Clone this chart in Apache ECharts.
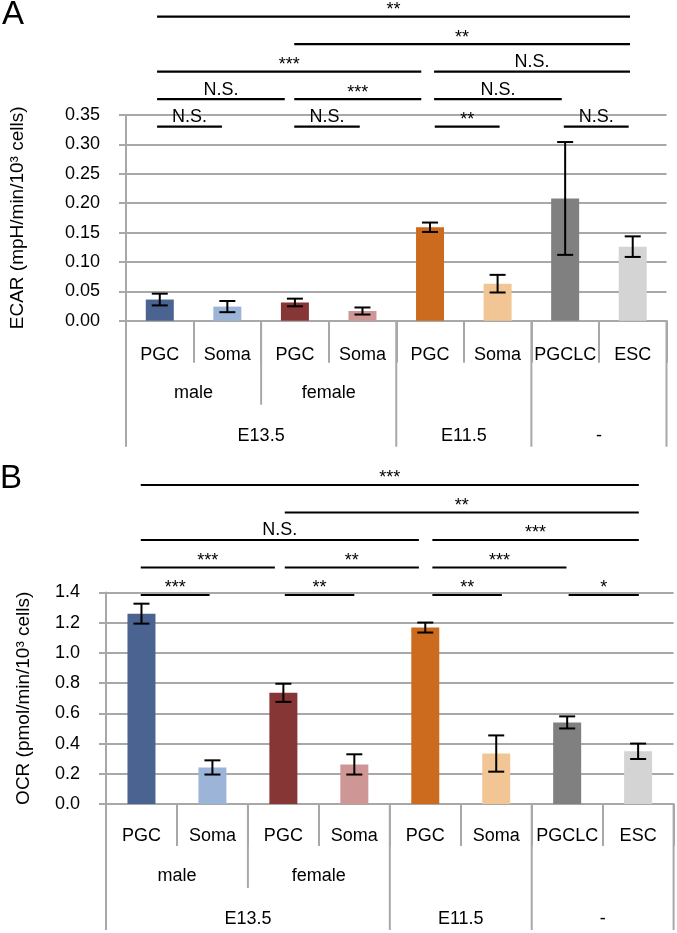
<!DOCTYPE html>
<html>
<head>
<meta charset="utf-8">
<script src="https://cdn.jsdelivr.net/npm/echarts@6/dist/echarts.min.js"></script>
<style>
html,body{margin:0;padding:0;background:#fff;}
#c{width:677px;height:933px;}
</style>
</head>
<body>
<div id="c"></div>
<script>
// ---- data ----
const categories = ['PGC','Soma','PGC','Soma','PGC','Soma','PGCLC','ESC'];
const barColors = ['#4a6391','#9cb4d8','#873636','#cf9696','#cc6b1e','#f2c595','#808080','#d4d4d4'];
const ecarMean = [0.036,0.024,0.031,0.0165,0.159,0.063,0.208,0.126];
const ecarErr  = [0.010,0.0095,0.0065,0.006,0.008,0.015,0.096,0.0175];
const ocrMean  = [1.26,0.242,0.736,0.262,1.168,0.334,0.540,0.349];
const ocrErr   = [0.066,0.047,0.060,0.067,0.033,0.120,0.040,0.051];
const sexLabels = ['male','female'];
const sexSpans = [[0,1],[2,3]];
const stageLabels = ['E13.5','E11.5','-'];
const stageSpans = [[0,3],[4,5],[6,7]];
const midBoundaries = [2];
const longBoundaries = [0,4,6,8];
// significance brackets: [fromCategory, toCategory, row (0 = top), label]
const bracketsA = [
  [-0.04,6.96,0,'**'],
  [1.99,6.96,1,'**'],
  [-0.04,3.87,2,'***'],[4.06,6.96,2,'N.S.'],
  [-0.04,1.85,3,'N.S.'],[1.99,3.87,3,'***'],[4.06,5.95,3,'N.S.'],
  [-0.04,0.92,4,'N.S.'],[1.99,2.96,4,'N.S.'],[4.07,5.03,4,'**'],[5.98,6.94,4,'N.S.']
];
const bracketsB = [
  [-0.01,7.01,0,'***'],
  [2.02,7.01,1,'**'],
  [-0.01,3.91,2,'N.S.'],[4.10,7.01,2,'***'],
  [-0.01,1.88,3,'***'],[2.02,3.91,3,'**'],[4.10,5.99,3,'***'],
  [-0.01,0.96,4,'***'],[2.02,3.0,4,'**'],[4.10,5.08,4,'**'],[6.02,7.01,4,'*']
];

// ---- styles ----
const FONT = "'Liberation Sans', Arial, sans-serif";
const GRAY = '#a8a8a8';
const panels = [
  {letter:'A', grid:{left:117.5,right:10.5,top:115,height:205.7}, max:0.35, interval:0.05, digits:2,
   name:'ECAR (mpH/min/10\u00B3 cells)', nameGap:99, mean:ecarMean, err:ecarErr, brackets:bracketsA,
   rowBase:11.7, letterX:2, letterY:15, labelMargin:25},
  {letter:'B', grid:{left:106,right:3.4,top:592.5,height:211.5}, max:1.4, interval:0.2, digits:1,
   name:'OCR (pmol/min/10\u00B3 cells)', nameGap:73, mean:ocrMean, err:ocrErr, brackets:bracketsB,
   rowBase:2.5, letterX:0, letterY:479, labelMargin:23}
];
const ROW_STEP = 27.5;

const chart = echarts.init(document.getElementById('c'), null, {renderer:'canvas'});

const grids=[], xAxes=[], yAxes=[], series=[];
panels.forEach((p,k)=>{
  grids.push(Object.assign({containLabel:false}, p.grid));
  xAxes.push({
    type:'category', gridIndex:k, data:categories,
    axisLine:{show:true, lineStyle:{color:GRAY, width:2}},
    axisTick:{show:true, length:42, lineStyle:{color:GRAY, width:2}},
    axisLabel:{color:'#000', fontSize:18, fontFamily:FONT, margin:p.labelMargin, interval:0},
    splitLine:{show:false}
  });
  yAxes.push({
    type:'value', gridIndex:k, min:0, max:p.max, interval:p.interval,
    name:p.name, nameLocation:'middle', nameRotate:90, nameGap:p.nameGap,
    nameTextStyle:{color:'#000', fontSize:19, fontFamily:FONT},
    axisLine:{show:true, lineStyle:{color:GRAY, width:2}},
    axisTick:{show:true, length:7, lineStyle:{color:GRAY, width:2}},
    axisLabel:{color:'#000', fontSize:18, fontFamily:FONT, margin:26,
      formatter:(v)=>v.toFixed(p.digits)},
    splitLine:{show:true, lineStyle:{color:GRAY, width:2}}
  });
  series.push({
    type:'bar', xAxisIndex:k, yAxisIndex:k, barWidth:28,
    data:p.mean.map((v,i)=>({value:v, itemStyle:{color:barColors[i]}})),
    z:2
  });
  series.push({
    type:'custom', xAxisIndex:k, yAxisIndex:k, z:5, clip:false,
    data:p.mean.map((v,i)=>[i, v-p.err[i], v+p.err[i]]),
    renderItem:(params, api)=>{
      const lo = api.coord([api.value(0), api.value(1)]);
      const hi = api.coord([api.value(0), api.value(2)]);
      const cw = 8;
      const st = {stroke:'#000', lineWidth:2};
      return {type:'group', children:[
        {type:'line', shape:{x1:lo[0],y1:lo[1],x2:hi[0],y2:hi[1]}, style:st},
        {type:'line', shape:{x1:lo[0]-cw,y1:lo[1],x2:lo[0]+cw,y2:lo[1]}, style:st},
        {type:'line', shape:{x1:hi[0]-cw,y1:hi[1],x2:hi[0]+cw,y2:hi[1]}, style:st}
      ]};
    }
  });
});

chart.setOption({
  animation:false,
  grid:grids, xAxis:xAxes, yAxis:yAxes, series:series
});

// ---- annotations computed from the axes ----
const graphics = [];
panels.forEach((p,k)=>{
  const p0 = chart.convertToPixel({xAxisIndex:k}, 0);
  const p1 = chart.convertToPixel({xAxisIndex:k}, 1);
  const step = p1 - p0;
  const cx = (c)=> p0 + c*step;
  const yTop = chart.convertToPixel({yAxisIndex:k}, p.max);
  const yBase = chart.convertToPixel({yAxisIndex:k}, 0);

  graphics.push({type:'text', x:p.letterX, y:p.letterY,
    style:{text:p.letter, fontSize:33, fontFamily:FONT, fill:'#000', align:'left', verticalAlign:'middle'}});

  midBoundaries.forEach(b=>{
    graphics.push({type:'line', shape:{x1:cx(b-0.5),y1:yBase,x2:cx(b-0.5),y2:yBase+84},
      style:{stroke:GRAY, lineWidth:2}});
  });
  longBoundaries.forEach(b=>{
    graphics.push({type:'line', shape:{x1:cx(b-0.5),y1:yBase,x2:cx(b-0.5),y2:yBase+126},
      style:{stroke:GRAY, lineWidth:2}});
  });
  sexLabels.forEach((t,i)=>{
    const [a,b] = sexSpans[i];
    graphics.push({type:'text', x:(cx(a)+cx(b))/2, y:yBase+72,
      style:{text:t, fontSize:18, fontFamily:FONT, fill:'#000', align:'center', verticalAlign:'middle'}});
  });
  stageLabels.forEach((t,i)=>{
    const [a,b] = stageSpans[i];
    graphics.push({type:'text', x:(cx(a)+cx(b))/2, y:yBase+115,
      style:{text:t, fontSize:18, fontFamily:FONT, fill:'#000', align:'center', verticalAlign:'middle'}});
  });
  p.brackets.forEach(([f,t,row,label])=>{
    const y = yTop + p.rowBase - (4-row)*ROW_STEP;
    const x1 = cx(f), x2 = cx(t);
    graphics.push({type:'line', z:10, shape:{x1:x1,y1:y,x2:x2,y2:y}, style:{stroke:'#000', lineWidth:2.2}});
    const isStar = label.indexOf('*')>=0;
    graphics.push({type:'text', z:10, x:(x1+x2)/2, y: isStar ? y-6.5 : y-9.5,
      style:{text:label, fontSize:18, fontFamily:FONT, fill:'#000', align:'center', verticalAlign:'middle'}});
  });
});
chart.setOption({graphic:graphics});
</script>
</body>
</html>
